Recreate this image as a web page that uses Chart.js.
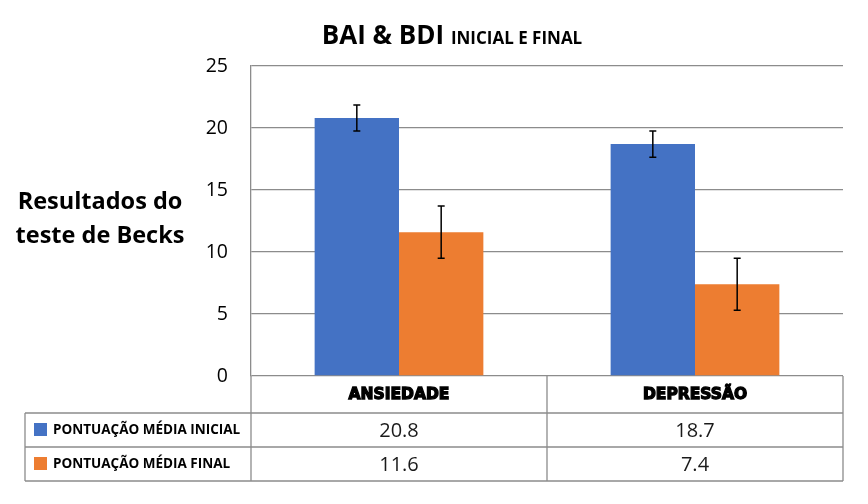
<!DOCTYPE html>
<html>
<head>
<meta charset="utf-8">
<script src="https://cdn.jsdelivr.net/npm/chart.js@4/dist/chart.umd.min.js"></script>
<style>
    body { margin: 0; background: #ffffff; }
    #wrap { width: 868px; height: 504px; }
</style>
</head>
<body>
<div id="wrap"><canvas id="graphique"></canvas></div>
<script>
let categories   = ["ANSIEDADE", "DEPRESSÃO"]
let series       = ["PONTUAÇÃO MÉDIA INICIAL", "PONTUAÇÃO MÉDIA FINAL"]
let inicial      = [20.8, 18.7]
let final        = [11.6, 7.4]
let erroInicial  = [1.05, 1.05]
let erroFinal    = [2.1, 2.1]
let yTicks       = [0, 5, 10, 15, 20, 25]

let cores  = ["#4472C4", "#ED7D31"]
let grade  = "#8c8c8c"
let fonte  = "'Open Sans', 'Noto Sans', sans-serif"

// titre, label de l'axe y, barres d'erreur et tableau de données
let extras = {
    id: "extras",
    afterDatasetsDraw(chart) {
        let ctx = chart.ctx
        let y = chart.scales.y
        let erros = [erroInicial, erroFinal]

        ctx.save()
        ctx.strokeStyle = "#000000"
        ctx.lineWidth = 1.5
        chart.data.datasets.forEach((ds, d) => {
            chart.getDatasetMeta(d).data.forEach((bar, i) => {
                let top = y.getPixelForValue(ds.data[i] + erros[d][i])
                let bot = y.getPixelForValue(ds.data[i] - erros[d][i])
                ctx.beginPath()
                ctx.moveTo(bar.x, top)
                ctx.lineTo(bar.x, bot)
                ctx.moveTo(bar.x - 3.5, top)
                ctx.lineTo(bar.x + 3.5, top)
                ctx.moveTo(bar.x - 3.5, bot)
                ctx.lineTo(bar.x + 3.5, bot)
                ctx.stroke()
            })
        })
        ctx.restore()
    },
    afterDraw(chart) {
        let ctx = chart.ctx
        let x = chart.scales.x
        let area = chart.chartArea
        let larg = (area.right - area.left) / categories.length

        ctx.save()
        ctx.fillStyle = "#000000"
        ctx.textBaseline = "alphabetic"

        // titre
        let t1 = "BAI & BDI "
        ctx.font = "bold 17px " + fonte
        let w2 = ctx.measureText("INICIAL E FINAL").width
        ctx.font = "bold 26px " + fonte
        let w1 = ctx.measureText(t1).width
        let tx = 452 - (w1 + w2) / 2
        ctx.textAlign = "left"
        ctx.fillText(t1, tx, 44)
        ctx.font = "bold 17px " + fonte
        ctx.fillText("INICIAL E FINAL", tx + w1, 44)

        // label y
        ctx.textAlign = "center"
        ctx.font = "bold 23.5px " + fonte
        ctx.fillText("Resultados do", 100, 209)
        ctx.fillText("teste de Becks", 100, 243)

        // tableau
        let rows = [area.bottom, 413, 447, 481]
        let left = 25
        ctx.strokeStyle = grade
        ctx.lineWidth = 1.3
        ctx.beginPath()
        for (let r = 1; r < rows.length; r++) {
            ctx.moveTo(left, rows[r])
            ctx.lineTo(area.right, rows[r])
        }
        ctx.moveTo(left, rows[1])
        ctx.lineTo(left, rows[3])
        for (let c = 0; c <= categories.length; c++) {
            let cx = area.left + c * larg
            ctx.moveTo(cx, rows[0])
            ctx.lineTo(cx, rows[3])
        }
        ctx.stroke()

        ctx.textBaseline = "middle"
        categories.forEach((cat, i) => {
            let cx = x.getPixelForValue(i)
            ctx.font = "bold 15.5px 'DejaVu Sans', sans-serif"
            ctx.lineWidth = 1.3
            ctx.strokeStyle = "#000000"
            ctx.strokeText(cat, cx, 395)
            ctx.fillText(cat, cx, 395)
        })

        let valores = [inicial, final]
        series.forEach((nome, s) => {
            let my = (rows[s + 1] + rows[s + 2]) / 2
            ctx.fillStyle = cores[s]
            ctx.fillRect(34, my - 7, 13, 13)
            ctx.fillStyle = "#000000"
            ctx.textAlign = "left"
            ctx.font = "bold 13.5px " + fonte
            ctx.fillText(nome, 53, my)
            ctx.textAlign = "center"
            ctx.font = "20px " + fonte
            ctx.fillStyle = "#1a1a1a"
            valores[s].forEach((v, i) => {
                ctx.fillText(v.toFixed(1), x.getPixelForValue(i), my + 1)
            })
        })
        ctx.restore()
    }
}

new Chart(document.getElementById("graphique"), {
    type: "bar",
    data: {
        labels: categories,
        datasets: [
            { label: series[0], data: inicial, backgroundColor: cores[0] },
            { label: series[1], data: final,   backgroundColor: cores[1] }
        ]
    },
    options: {
        responsive: true,
        maintainAspectRatio: false,
        animation: false,
        categoryPercentage: 0.57,
        barPercentage: 1.0,
        layout: { padding: { top: 66, bottom: 128, right: 25, left: 0 } },
        plugins: {
            legend: { display: false },
            tooltip: { enabled: false }
        },
        scales: {
            x: { display: false },
            y: {
                min: 0,
                max: 25,
                afterFit: scale => { scale.width = 251 },
                afterBuildTicks: scale => { scale.ticks = yTicks.map(v => ({ value: v })) },
                grid: { color: grade, lineWidth: 1.3, drawTicks: false },
                border: { color: grade, width: 1.3 },
                ticks: {
                    color: "#000000",
                    padding: 23,
                    font: { family: fonte, size: 19.5 }
                }
            }
        }
    },
    plugins: [extras]
})
</script>
</body>
</html>
